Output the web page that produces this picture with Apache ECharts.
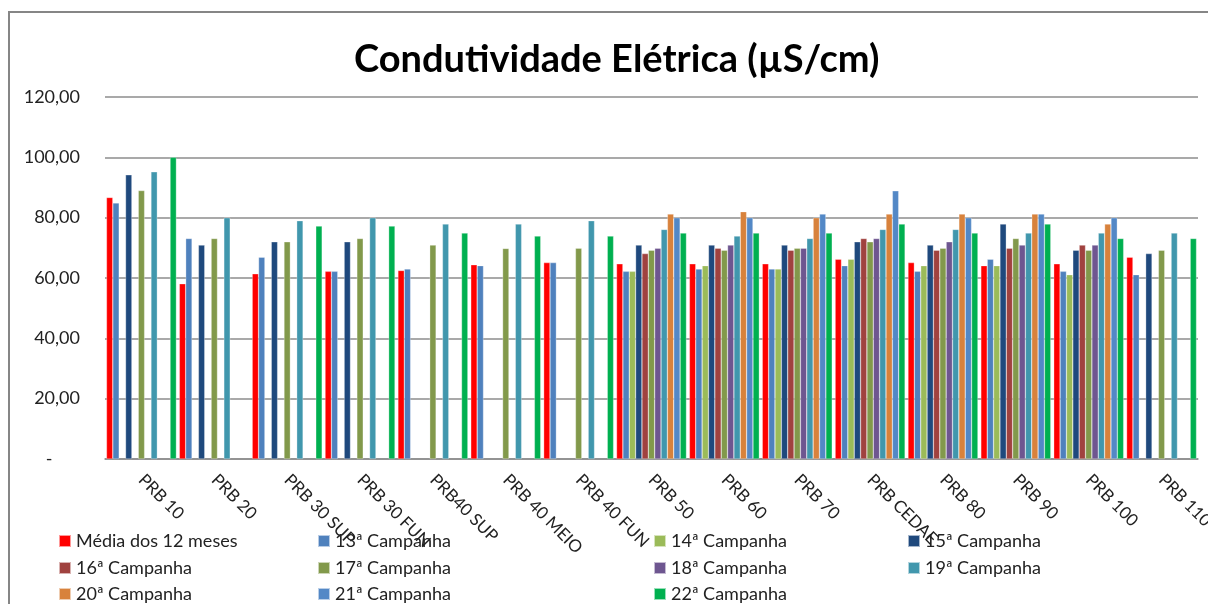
<!DOCTYPE html>
<html>
<head>
<meta charset="utf-8">
<script src="https://cdn.jsdelivr.net/npm/echarts@6/dist/echarts.min.js"></script>
<style>
  html, body { margin: 0; padding: 0; background: #fff; }
  #chart { width: 1208px; height: 604px; }
</style>
</head>
<body>
<div id="chart"></div>
<script>
// pontos de coleta
const categories = ['PRB 10', 'PRB 20', 'PRB 30 SUP', 'PRB 30 FUN', 'PRB40 SUP', 'PRB 40 MEIO', 'PRB 40 FUN',
  'PRB 50', 'PRB 60', 'PRB 70', 'PRB CEDAE', 'PRB 80', 'PRB 90', 'PRB 100', 'PRB 110']

// valores (µS/cm), null = sem coleta
const media12 = [86.7, 58.1, 61.4, 62.2, 62.5, 64.4, 65.1, 64.7, 64.7, 64.7, 66.2, 65.1, 64.1, 64.7, 66.9]
const camp13 = [84.9, 73.1, 66.9, 62.2, 63.0, 64.1, 65.1, 62.2, 63.0, 63.0, 64.1, 62.2, 66.2, 62.2, 61.1]
const camp14 = [null, null, null, null, null, null, null, 62.2, 64.1, 63.0, 66.2, 64.1, 64.1, 61.1, null]
const camp15 = [94.2, 70.9, 72.0, 72.0, null, null, null, 70.9, 70.9, 70.9, 72.0, 70.9, 77.9, 69.2, 68.1]
const camp16 = [null, null, null, null, null, null, null, 68.1, 69.9, 69.2, 73.1, 69.2, 69.9, 70.9, null]
const camp17 = [89.0, 73.1, 72.0, 73.1, 70.9, 69.8, 69.9, 69.2, 69.2, 69.9, 72.0, 69.9, 73.1, 69.2, 69.2]
const camp18 = [null, null, null, null, null, null, null, 69.9, 70.9, 69.9, 73.1, 72.0, 70.9, 70.9, null]
const camp19 = [95.2, 80.0, 79.0, 80.0, 77.9, 77.9, 79.0, 76.1, 73.9, 73.1, 76.1, 76.1, 74.9, 74.9, 74.9]
const camp20 = [null, null, null, null, null, null, null, 81.2, 82.0, 80.0, 81.2, 81.2, 81.2, 77.9, null]
const camp21 = [null, null, null, null, null, null, null, 80.0, 80.0, 81.2, 88.9, 80.0, 81.2, 80.0, null]
const camp22 = [100.0, null, 77.2, 77.2, 74.9, 73.9, 73.9, 74.9, 74.9, 74.9, 77.9, 74.9, 77.9, 73.1, 73.1]

const seriesNames = ['Média dos 12 meses', '13ª Campanha', '14ª Campanha', '15ª Campanha', '16ª Campanha',
  '17ª Campanha', '18ª Campanha', '19ª Campanha', '20ª Campanha', '21ª Campanha', '22ª Campanha']
const seriesData = [media12, camp13, camp14, camp15, camp16, camp17, camp18, camp19, camp20, camp21, camp22]
const colors = ['#FF0000', '#4F81BD', '#9BBB59', '#1F497D', '#A0423F', '#82994B',
  '#6E5690', '#4197AD', '#D8823C', '#5388C6', '#00B050']

const yTicks = [0, 20, 40, 60, 80, 100, 120]

const font = 'Lato, "Open Sans", sans-serif'

const chart = echarts.init(document.getElementById('chart'))

// legenda em grade 4 colunas x 3 linhas, como no Excel
const legendCols = [58, 317, 653, 907]
const legendRows = [531, 558, 584]
const legends = seriesNames.map((name, i) => ({
  left: legendCols[i % 4],
  top: legendRows[Math.floor(i / 4)],
  padding: 0,
  icon: 'rect',
  itemWidth: 12,
  itemHeight: 12,
  data: [name],
  textStyle: { fontFamily: font, fontSize: 18, color: '#222', lineHeight: 20 },
}))

const option = {
  backgroundColor: '#fff',
  animation: false,
  color: colors,
  title: {
    text: 'Condutividade Elétrica (µS/cm)',
    left: 349,
    top: 36,
    textStyle: { fontFamily: font, fontSize: 38, fontWeight: 'bold', color: '#000' },
  },
  graphic: [
    {
      type: 'rect',
      shape: { x: 9, y: 12, width: 1300, height: 700 },
      style: { fill: 'none', stroke: '#868686', lineWidth: 2 },
      silent: true,
    },
  ],
  legend: legends,
  grid: { left: 105, right: 10, top: 97, bottom: 145, outerBoundsMode: 'none' },
  xAxis: {
    type: 'category',
    data: categories,
    axisTick: { show: false },
    axisLine: { lineStyle: { color: '#8c8c8c', width: 1.5 } },
    axisLabel: {
      rotate: -45,
      margin: 18,
      interval: 0,
      fontFamily: font,
      fontSize: 17,
      color: '#222',
    },
  },
  yAxis: {
    type: 'value',
    min: yTicks[0],
    max: yTicks[yTicks.length - 1],
    interval: 20,
    axisLine: { show: false },
    axisTick: { show: false },
    splitLine: { lineStyle: { color: '#8c8c8c', width: 1.5 } },
    axisLabel: {
      margin: 25,
      fontFamily: font,
      fontSize: 18,
      color: '#222',
      formatter: (v) => (v === 0 ? '-      ' : v.toFixed(2).replace('.', ',')),
    },
  },
  series: seriesData.map((data, i) => ({
    name: seriesNames[i],
    type: 'bar',
    data: data,
    barGap: '0%',
    barCategoryGap: '4%',
    itemStyle: { color: colors[i], borderColor: 'rgba(255,255,255,0.6)', borderWidth: 0.5 },
  })),
}

chart.setOption(option)
</script>
</body>
</html>
